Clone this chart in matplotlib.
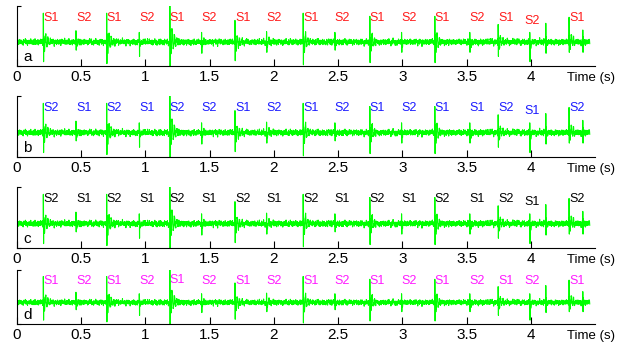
import numpy as np
import matplotlib
matplotlib.use("Agg")
import matplotlib.pyplot as plt

plt.rcParams['font.family'] = ['Liberation Sans', 'DejaVu Sans']

# heart sound events (s), with peak up / down amplitude
event_t = [0.205, 0.459, 0.698, 0.952, 1.190, 1.437, 1.697, 1.943, 2.228,
           2.475, 2.747, 2.994, 3.253, 3.525, 3.746, 3.992, 4.117, 4.298, 4.405]
event_up = [1.20, 0.47, 1.20, 0.40, 1.60, 0.40, 0.90, 0.43, 1.20,
            0.40, 1.07, 0.40, 1.07, 0.40, 0.73, 0.40, 0.78, 1.03, 0.50]
event_down = [0.82, 0.34, 0.90, 0.60, 1.00, 0.47, 0.78, 0.43, 0.95,
              0.34, 0.86, 0.43, 0.86, 0.43, 0.60, 0.82, 0.47, 0.43, 0.43]
event_len = [0.07, 0.035, 0.07, 0.035, 0.08, 0.035, 0.07, 0.035, 0.07,
             0.035, 0.07, 0.035, 0.07, 0.035, 0.08, 0.035, 0.02, 0.07, 0.02]

# labels placed above the events
label_t = [0.205, 0.459, 0.698, 0.952, 1.190, 1.437, 1.697, 1.943, 2.228,
           2.475, 2.747, 2.994, 3.253, 3.525, 3.746, 3.950, 4.298]
labels_a = ["S1", "S2", "S1", "S2", "S1", "S2", "S1", "S2", "S1",
            "S2", "S1", "S2", "S1", "S2", "S1", "S2", "S1"]
labels_b = ["S2", "S1", "S2", "S1", "S2", "S2", "S1", "S2", "S1",
            "S2", "S1", "S2", "S1", "S1", "S2", "S1", "S2"]
labels_c = ["S2", "S1", "S2", "S1", "S2", "S1", "S2", "S1", "S2",
            "S1", "S2", "S1", "S2", "S1", "S2", "S1", "S2"]
labels_d = list(labels_a)
label_y_a = [1.0] * 15 + [0.88, 1.0]
label_y_d = [1.0] * 4 + [1.06] + [1.0] * 12

panel_names = ["a", "b", "c", "d"]
panel_labels = [labels_a, labels_b, labels_c, labels_d]
panel_label_y = [label_y_a, label_y_a, label_y_a, label_y_d]
panel_colors = ["#ff1a1a", "#1a1aff", "black", "#ff1aff"]
# axes boxes in pixels: top, bottom
panel_px = [(6, 66), (96, 157), (187, 248), (270, 324)]

xticks = [0, 0.5, 1, 1.5, 2, 2.5, 3, 3.5, 4]

# build the trace from the events
fs = 1000
t = np.arange(0, 4.46, 1.0 / fs)
sig = np.zeros_like(t)
for f, a in zip([23.7, 57.3, 91.1, 143.9, 211.3, 277.7, 389.1, 451.3],
                [0.02, 0.03, 0.035, 0.03, 0.03, 0.03, 0.025, 0.025]):
    sig += a * np.sin(2 * np.pi * f * t + f)
for t0, up, dn, ln in zip(event_t, event_up, event_down, event_len):
    tau = t - t0
    m = (tau >= 0) & (tau < ln)
    env = np.exp(-tau[m] / (ln / 3.0))
    osc = np.sin(2 * np.pi * 55 * tau[m] + np.pi / 2)
    amp = np.where(osc > 0, up, dn) * 0.65
    sig[m] += amp * env * osc
    i0 = np.searchsorted(t, t0)
    sig[i0] = up
    sig[i0 + 2] = -dn

W, H = 623, 345
fig = plt.figure(figsize=(W / 100, H / 100), dpi=100)
left_px, right_px = 17, 595

for k in range(4):
    top, bot = panel_px[k]
    ax = fig.add_axes([left_px / W, (H - bot) / H, (right_px - left_px) / W,
                       (bot - top) / H])
    ax.plot(t, sig, color="#00ff00", lw=0.8)
    ax.set_xlim(0, 4.5)
    ax.set_ylim(-1, 1.5)
    for s in ["top", "right"]:
        ax.spines[s].set_visible(False)
    ax.set_xticks(xticks)
    ax.set_xticklabels([("%g" % v) for v in xticks], fontsize=11)
    ax.set_yticks([-1, 1.5])
    ax.set_yticklabels([])
    ax.tick_params(axis="x", direction="in", length=5, pad=3)
    ax.tick_params(axis="y", direction="in", length=3)
    for x, lab, y in zip(label_t, panel_labels[k], panel_label_y[k]):
        ax.text(x, y, lab, color=panel_colors[k], fontsize=9,
                ha="left", va="center")
    ax.annotate(panel_names[k], xy=(0, 0), xycoords="axes fraction",
                xytext=(6, 2), textcoords="offset pixels",
                ha="left", va="bottom", fontsize=11)
    ax.annotate("Time (s)", xy=(1, 0), xycoords="axes fraction",
                xytext=(20, -12), textcoords="offset pixels",
                ha="right", va="center", fontsize=9.5)

fig.savefig("out.png", dpi=100)
